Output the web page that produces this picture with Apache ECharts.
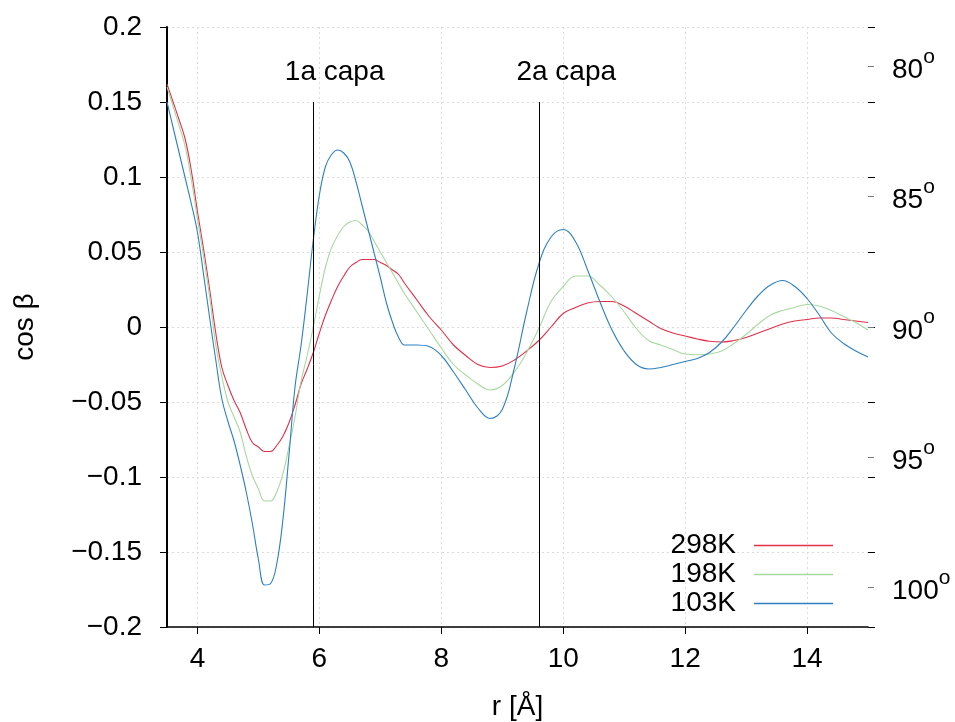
<!DOCTYPE html>
<html>
<head>
<meta charset="utf-8">
<script src="https://cdn.jsdelivr.net/npm/echarts@6/dist/echarts.min.js"></script>
<style>
  html, body { margin: 0; padding: 0; background: #fff; }
  #chart { width: 955px; height: 722px; }
</style>
</head>
<body>
<div id="chart"></div>
<script>
// r en Å (muestreo común de las tres curvas)
const r = [3.5, 3.6, 3.7, 3.8, 3.9, 4.0, 4.1, 4.2, 4.3, 4.4, 4.5, 4.6, 4.7, 4.8, 4.9,
  5.0, 5.1, 5.2, 5.3, 5.4, 5.5, 5.6, 5.7, 5.8, 5.9, 6.0, 6.1, 6.2, 6.3, 6.4, 6.5,
  6.6, 6.7, 6.8, 6.9, 7.0, 7.1, 7.2, 7.3, 7.4, 7.6, 7.8, 8.0, 8.2, 8.4, 8.6, 8.8,
  9.0, 9.2, 9.4, 9.6, 9.8, 10.0, 10.2, 10.4, 10.6, 10.8, 11.0, 11.2, 11.4, 11.6,
  11.8, 12.0, 12.2, 12.4, 12.6, 12.8, 13.0, 13.2, 13.4, 13.6, 13.8, 14.0, 14.2,
  14.4, 14.6, 14.8, 15.0]

const t298 = [0.162, 0.150, 0.138, 0.125, 0.104, 0.077, 0.052, 0.025, -0.004, -0.027,
  -0.039, -0.049, -0.057, -0.068, -0.077, -0.080, -0.083, -0.083, -0.079, -0.073,
  -0.064, -0.052, -0.038, -0.028, -0.017, -0.004, 0.008, 0.018, 0.027, 0.034,
  0.040, 0.043, 0.045, 0.045, 0.045, 0.043, 0.041, 0.038, 0.035, 0.029, 0.018,
  0.007, -0.002, -0.012, -0.019, -0.025, -0.027, -0.026, -0.022, -0.016, -0.009,
  0.000, 0.009, 0.013, 0.016, 0.017, 0.017, 0.014, 0.009, 0.004, -0.001, -0.004,
  -0.006, -0.008, -0.0095, -0.010, -0.009, -0.007, -0.004, -0.001, 0.002, 0.004,
  0.005, 0.006, 0.006, 0.005, 0.004, 0.003]

const t198 = [0.160, 0.147, 0.134, 0.120, 0.098, 0.072, 0.047, 0.020, -0.012, -0.033,
  -0.050, -0.060, -0.070, -0.086, -0.099, -0.108, -0.116, -0.116, -0.110, -0.098,
  -0.080, -0.060, -0.036, -0.019, 0.000, 0.021, 0.040, 0.053, 0.061, 0.067,
  0.070, 0.071, 0.068, 0.064, 0.057, 0.050, 0.043, 0.036, 0.029, 0.022, 0.010,
  -0.002, -0.014, -0.025, -0.032, -0.038, -0.042, -0.039, -0.030, -0.017, -0.001,
  0.017, 0.027, 0.034, 0.034, 0.028, 0.020, 0.010, -0.001, -0.009, -0.012, -0.015,
  -0.018, -0.0185, -0.018, -0.016, -0.011, -0.005, 0.002, 0.008, 0.011, 0.013,
  0.015, 0.014, 0.011, 0.007, 0.003, -0.002]

const t103 = [0.150, 0.133, 0.116, 0.099, 0.082, 0.063, 0.035, 0.006, -0.022, -0.048,
  -0.063, -0.076, -0.092, -0.110, -0.131, -0.155, -0.172, -0.171, -0.158, -0.129,
  -0.086, -0.040, -0.012, 0.022, 0.058, 0.088, 0.107, 0.115, 0.118, 0.116,
  0.110, 0.097, 0.081, 0.065, 0.049, 0.033, 0.016, 0.003, -0.007, -0.012, -0.012,
  -0.013, -0.019, -0.030, -0.042, -0.054, -0.061, -0.055, -0.027, 0.010, 0.042,
  0.060, 0.065, 0.057, 0.038, 0.017, -0.002, -0.016, -0.025, -0.028, -0.027, -0.025,
  -0.023, -0.021, -0.017, -0.010, 0.000, 0.011, 0.021, 0.028, 0.031, 0.027,
  0.019, 0.008, -0.004, -0.011, -0.016, -0.020]

const xTicks = [4, 6, 8, 10, 12, 14]
const angleTicks = [80, 85, 90, 95, 100]
const capas = [5.9, 9.6]
const capaTop = 0.15
const capaNames = ['1a capa', '2a capa']
const capaLabelR = [6.25, 10.05]
const capaLabelY = 0.17

const FONT = 'Liberation Sans'
const yMin = -0.2, yMax = 0.2

function pairs(ys) {
  return r.map((x, i) => [x, ys[i]])
}

const gridDots = { color: '#dcdcdc', width: 1, type: [2, 3] }
const angleValues = angleTicks.map(a => Math.cos(a * Math.PI / 180))

const chart = echarts.init(document.getElementById('chart'))
chart.setOption({
  animation: false,
  textStyle: { fontFamily: FONT, color: '#000' },
  grid: { left: 167, right: 87, top: 27, bottom: 95, containLabel: false, outerBoundsMode: 'none' },
  legend: {
    data: ['298K', '198K', '103K'],
    orient: 'vertical',
    right: 117,
    top: 526,
    align: 'right',
    icon: 'rect',
    itemWidth: 79,
    itemHeight: 1.5,
    itemGap: 0,
    textStyle: { fontSize: 28, lineHeight: 29, color: '#000', padding: [0, 13, 0, 0] }
  },
  xAxis: {
    type: 'value',
    min: 3.5,
    max: 15,
    name: 'r [Å]',
    nameLocation: 'middle',
    nameGap: 66,
    nameTextStyle: { fontSize: 28, color: '#000' },
    axisLine: { onZero: false, lineStyle: { color: '#000', width: 1.5 } },
    axisTick: { length: 7, customValues: xTicks, lineStyle: { color: '#000' } },
    axisLabel: { customValues: xTicks, fontSize: 28, color: '#000', margin: 18 },
    splitLine: { show: true, lineStyle: gridDots }
  },
  yAxis: [
    {
      type: 'value',
      min: yMin,
      max: yMax,
      interval: 0.05,
      name: 'cos β',
      nameLocation: 'middle',
      nameGap: 128,
      nameTextStyle: { fontSize: 28, color: '#000' },
      axisLine: { show: true, lineStyle: { color: '#000', width: 2 } },
      axisTick: { length: 7, lineStyle: { color: '#000' } },
      axisLabel: {
        fontSize: 28, color: '#000', margin: 25,
        formatter: v => v === 0 ? '0' : String(+v.toFixed(2)).replace('-', '\u2212')
      },
      splitLine: { show: true, lineStyle: gridDots }
    },
    {
      // marcas espejo en el lado derecho
      type: 'value',
      position: 'right',
      min: yMin,
      max: yMax,
      interval: 0.05,
      axisLine: { show: false },
      axisTick: { show: true, length: 7, lineStyle: { color: '#000' } },
      axisLabel: { show: false },
      splitLine: { show: false }
    },
    {
      // ángulo β en grados
      type: 'value',
      position: 'right',
      min: yMin,
      max: yMax,
      axisLine: { show: false },
      axisTick: {
        show: true, length: 6,
        customValues: angleValues,
        lineStyle: { color: '#777' }
      },
      axisLabel: {
        customValues: angleValues,
        margin: 24,
        formatter: v => '{n|' + Math.round(Math.acos(v) * 180 / Math.PI) + '}{s|o}',
        rich: {
          n: { fontSize: 28, lineHeight: 40, padding: [8, 0, 0, 0], color: '#000', fontFamily: FONT },
          s: { fontSize: 21, lineHeight: 20, verticalAlign: 'top', color: '#000', fontFamily: FONT }
        }
      },
      splitLine: { show: false }
    }
  ],
  series: [
    {
      name: '298K', type: 'line', data: pairs(t298), showSymbol: false, smooth: 0.4,
      color: '#e0304a', lineStyle: { width: 1.1 },
      markLine: {
        silent: true, symbol: 'none', animation: false,
        label: { show: false },
        lineStyle: { color: '#000', width: 1, type: 'solid' },
        data: capas.map(c => [{ coord: [c, capaTop] }, { coord: [c, yMin] }])
      },
      markPoint: {
        silent: true, symbol: 'circle', symbolSize: 0,
        label: { show: true, position: 'inside', formatter: '{b}', fontSize: 28, color: '#000', fontFamily: FONT },
        data: capaNames.map((n, i) => ({ name: n, coord: [capaLabelR[i], capaLabelY] }))
      }
    },
    {
      name: '198K', type: 'line', data: pairs(t198), showSymbol: false, smooth: 0.4,
      color: '#a8d8a0', lineStyle: { width: 1.1 }
    },
    {
      name: '103K', type: 'line', data: pairs(t103), showSymbol: false, smooth: 0.4,
      color: '#2c80c0', lineStyle: { width: 1.1 }
    }
  ]
})
</script>
</body>
</html>
